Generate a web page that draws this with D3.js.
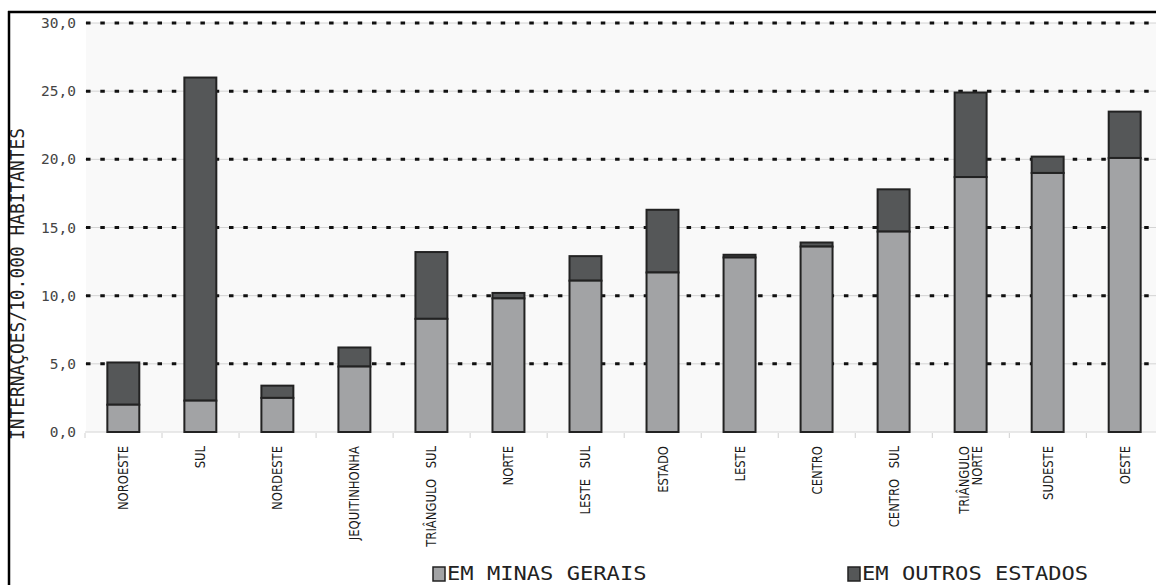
<!DOCTYPE html>
<html>
<head>
<meta charset="utf-8">
<script src="https://cdn.jsdelivr.net/npm/d3@7"></script>
<style>
  body { margin: 0; background: #fff; }
  svg { display: block; }
</style>
</head>
<body>
<script>
// regioes e valores (internacoes / 10.000 hab)
var regioes = ["NOROESTE", "SUL", "NORDESTE", "JEQUITINHONHA", "TRIÂNGULO SUL", "NORTE",
  "LESTE SUL", "ESTADO", "LESTE", "CENTRO", "CENTRO SUL", "TRIÂNGULO NORTE", "SUDESTE", "OESTE"];
var emMinas = [2.0, 2.3, 2.5, 4.8, 8.3, 9.8, 11.1, 11.7, 12.8, 13.6, 14.7, 18.7, 19.0, 20.1];
var totais = [5.1, 26.0, 3.4, 6.2, 13.2, 10.2, 12.9, 16.3, 13.0, 13.9, 17.8, 24.9, 20.2, 23.5];
var yTicks = [0, 5, 10, 15, 20, 25, 30];
var legenda = ["EM MINAS GERAIS", "EM OUTROS ESTADOS"];

var W = 1156, H = 585;
var corMG = "#a2a3a5", corOutros = "#555758";

var svg = d3.select("body").append("svg")
  .attr("width", W)
  .attr("height", H);

var x = d3.scaleBand()
  .domain(regioes)
  .range([85, 1163])
  .paddingInner(0.585)
  .paddingOuter(0.29);

var y = d3.scaleLinear()
  .domain([0, 30])
  .range([432, 23]);

// fundo da area do grafico
svg.append("rect")
  .attr("x", 86)
  .attr("y", y(30))
  .attr("width", W - 86)
  .attr("height", y(0) - y(30))
  .attr("fill", "#f9f9f9");

// grade
var grid = svg.append("g");
grid.selectAll(".gl").data(yTicks).enter().append("line")
  .attr("x1", 85).attr("x2", W)
  .attr("y1", function (d) { return y(d); })
  .attr("y2", function (d) { return y(d); })
  .attr("stroke", "#d4d4d4")
  .attr("stroke-width", 1);
grid.selectAll(".gd").data(yTicks.filter(function (d) { return d > 0; })).enter().append("line")
  .attr("x1", 86).attr("x2", W)
  .attr("y1", function (d) { return y(d); })
  .attr("y2", function (d) { return y(d); })
  .attr("stroke", "#111")
  .attr("stroke-width", 3)
  .attr("stroke-dasharray", "4.5,9.8");

// rotulos do eixo y
svg.append("g").selectAll("text").data(yTicks).enter().append("text")
  .attr("x", 76)
  .attr("y", function (d) { return y(d) + 5; })
  .attr("text-anchor", "end")
  .attr("font-family", "DejaVu Sans Mono")
  .attr("font-size", 14.5)
  .attr("fill", "#444")
  .text(function (d) { return d3.format(".1f")(d).replace(".", ","); });

// marcas do eixo x
var limites = d3.range(regioes.length + 1).map(function (i) { return 85 + i * x.step(); });
svg.append("g").selectAll("line").data(limites).enter().append("line")
  .attr("x1", function (d) { return d; })
  .attr("x2", function (d) { return d; })
  .attr("y1", 433).attr("y2", 438)
  .attr("stroke", "#d0d0d0");

// barras empilhadas
var bars = svg.append("g").selectAll("g").data(regioes).enter().append("g");
bars.append("rect")
  .attr("x", function (d) { return x(d); })
  .attr("y", function (d, i) { return y(totais[i]); })
  .attr("width", x.bandwidth())
  .attr("height", function (d, i) { return y(emMinas[i]) - y(totais[i]); })
  .attr("fill", corOutros)
  .attr("stroke", "#222")
  .attr("stroke-width", 2);
bars.append("rect")
  .attr("x", function (d) { return x(d); })
  .attr("y", function (d, i) { return y(emMinas[i]); })
  .attr("width", x.bandwidth())
  .attr("height", function (d, i) { return y(0) - y(emMinas[i]); })
  .attr("fill", corMG)
  .attr("stroke", "#222")
  .attr("stroke-width", 2);

// rotulos do eixo x (verticais)
var xl = svg.append("g").selectAll("g").data(regioes).enter().append("g")
  .attr("transform", function (d) {
    return "translate(" + (x(d) + x.bandwidth() / 2) + ",446) rotate(-90) scale(0.86,1)";
  });
xl.each(function (d) {
  var g = d3.select(this);
  var linhas = d === "TRIÂNGULO NORTE" ? ["TRIÂNGULO", "NORTE"] : [d];
  var off = (linhas.length - 1) * 6.5;
  linhas.forEach(function (t, k) {
    g.append("text")
      .attr("x", 0)
      .attr("y", 5 - off + k * 13)
      .attr("text-anchor", "end")
      .attr("font-family", "DejaVu Sans")
      .attr("font-size", 13.5)
      .attr("word-spacing", 8)
      .attr("fill", "#1a1a1a")
      .text(t);
  });
});

// titulo do eixo y
svg.append("text")
  .attr("transform", "translate(24,284) rotate(-90)")
  .attr("text-anchor", "middle")
  .attr("font-family", "DejaVu Sans Mono")
  .attr("font-size", 19)
  .attr("fill", "#222")
  .attr("textLength", 312)
  .attr("lengthAdjust", "spacingAndGlyphs")
  .text("INTERNAÇOES/10.000 HABITANTES");

// legenda
var legX = [432, 847];
var leg = svg.append("g").selectAll("g").data(legenda).enter().append("g")
  .attr("transform", function (d, i) { return "translate(" + legX[i] + ",0)"; });
leg.append("rect")
  .attr("x", 1).attr("y", 567)
  .attr("width", 12).attr("height", 14)
  .attr("fill", function (d, i) { return i === 0 ? corMG : corOutros; })
  .attr("stroke", "#222")
  .attr("stroke-width", 1.5);
leg.append("text")
  .attr("x", 15)
  .attr("y", 580)
  .attr("font-family", "DejaVu Sans Mono")
  .attr("font-size", 20)
  .attr("fill", "#222")
  .attr("textLength", function (d) { return d.length * 13.3; })
  .attr("lengthAdjust", "spacingAndGlyphs")
  .text(function (d) { return d; });

// moldura
svg.append("line").attr("x1", 8).attr("x2", W).attr("y1", 12).attr("y2", 12)
  .attr("stroke", "#000").attr("stroke-width", 2.5);
svg.append("line").attr("x1", 9).attr("x2", 9).attr("y1", 11).attr("y2", H)
  .attr("stroke", "#000").attr("stroke-width", 2.5);
</script>
</body>
</html>
